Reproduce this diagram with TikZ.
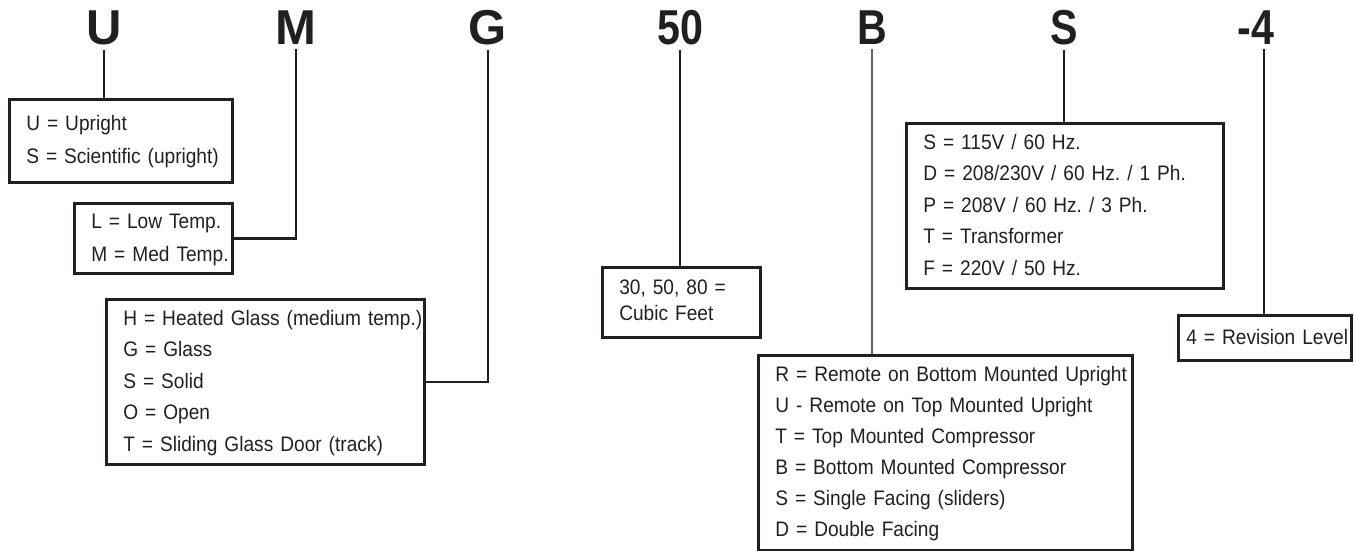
\documentclass[tikz,border=0pt]{standalone}
\usepackage{fontspec}
\setmainfont{Liberation Sans}[FakeStretch=0.91]
\newfontfamily\roundfont{Liberation Sans}
\newfontfamily\narrowfont{Liberation Sans}[FakeStretch=0.84]
\usepackage{tikz}
\frenchspacing
\definecolor{ink}{RGB}{35,31,32}
\tikzset{
    letter/.style={text=ink, anchor=base, inner sep=4pt},
    roundletter/.style={letter, font=\roundfont\bfseries\fontsize{49}{49}\selectfont},
    narrowletter/.style={letter, font=\narrowfont\bfseries\fontsize{49}{49}\selectfont},
    legend/.style={draw=ink, line width=2.6pt, anchor=north west, align=left,
        inner xsep=17pt, inner ysep=0pt, text=ink},
    link/.style={draw=ink, line width=2.6pt}
}
\newcommand{\legendfont}[1]{\fontsize{21}{#1}\selectfont}
\newcommand{\rows}[1]{\begin{tabular}{@{}l@{}}#1\end{tabular}}

\begin{document}
\begin{tikzpicture}[x=1pt,y=-1pt]
    \useasboundingbox (0,0) rectangle (1354,551);
    % code letters
    \node[roundletter] (type) at (104,45) {U};
    \node[roundletter] (temp) at (296,45) {M};
    \node[roundletter] (door) at (488,45) {G};
    \node[narrowletter] (size) at (680,45) {50};
    \node[narrowletter] (comp) at (872,45) {B};
    \node[narrowletter] (volt) at (1064,45) {S};
    \node[narrowletter] (rev) at (1256,45) {-4};
    % legends
    \node[legend, font=\legendfont{33}, minimum width=223pt, minimum height=83pt,
        text width=189pt] (typebox) at (8,98)
        {\rows{U = Upright\\S = Scientific (upright)}};
    \node[legend, font=\legendfont{33}, minimum width=158pt, minimum height=70pt,
        text width=124pt] (tempbox) at (73,202)
        {\rows{L = Low Temp.\\M = Med Temp.}};
    \node[legend, font=\legendfont{31.5}, minimum width=318pt, minimum height=165pt,
        text width=284pt] (doorbox) at (105,298)
        {\rows{H = Heated Glass (medium temp.)\\G = Glass\\S = Solid\\O = Open\\T = Sliding Glass Door (track)}};
    \node[legend, font=\legendfont{26}, minimum width=158pt, minimum height=70pt,
        text width=124pt] (sizebox) at (601,266)
        {\rows{30, 50, 80 =\\Cubic Feet}};
    \node[legend, font=\legendfont{31.5}, minimum width=317pt, minimum height=165pt,
        text width=283pt] (voltbox) at (905,122)
        {\rows{S = 115V / 60 Hz.\\D = 208/230V / 60 Hz. / 1 Ph.\\P = 208V / 60 Hz. / 3 Ph.\\T = Transformer\\F = 220V / 50 Hz.}};
    \node[legend, font=\legendfont{31}, minimum width=374pt, minimum height=195pt,
        text width=340pt] (compbox) at (757,354)
        {\rows{R = Remote on Bottom Mounted Upright\\U - Remote on Top Mounted Upright\\T = Top Mounted Compressor\\B = Bottom Mounted Compressor\\S = Single Facing (sliders)\\D = Double Facing}};
    \node[legend, font=\legendfont{31.5}, minimum width=173pt, minimum height=45pt,
        inner xsep=8pt, text width=157pt] (revbox) at (1177,314)
        {\rows{4 = Revision Level}};
    % connectors
    \draw[link] (type.south) -- (type.south |- typebox.north);
    \draw[link] (temp.south) |- (tempbox.east);
    \draw[link] (door.south) |- (doorbox.east);
    \draw[link] (size.south) -- (size.south |- sizebox.north);
    \draw[link, draw=ink!70, line width=2pt] (comp.south) -- (comp.south |- compbox.north);
    \draw[link] (volt.south) -- (volt.south |- voltbox.north);
    \draw[link] ([xshift=8pt]rev.south) -- ([xshift=8pt]rev.south |- revbox.north);
\end{tikzpicture}
\end{document}
